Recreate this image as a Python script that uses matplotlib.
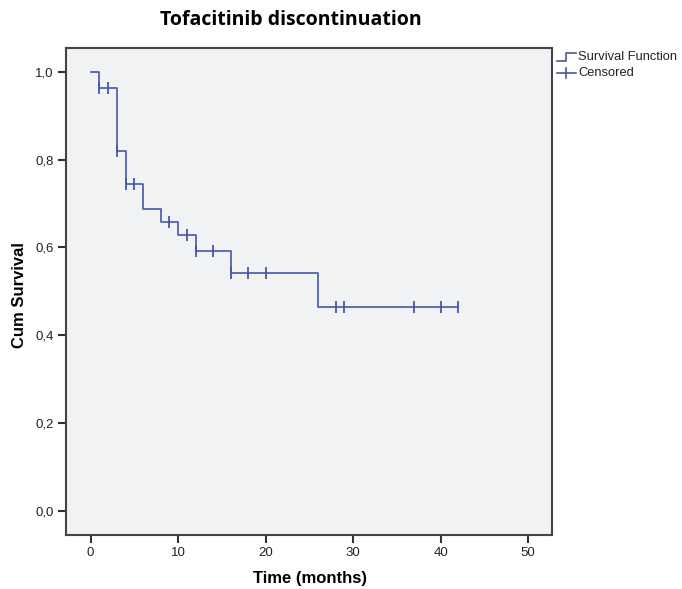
import numpy as np
import matplotlib.pyplot as plt
from matplotlib.lines import Line2D

# Kaplan-Meier steps
step_times = [0, 1, 3, 4, 6, 8, 10, 12, 16, 26]
step_surv = [1.0, 0.964, 0.819, 0.744, 0.687, 0.659, 0.629, 0.593, 0.542, 0.465]
end_time = 42

censored_times = [1, 2, 3, 4, 5, 9, 11, 12, 14, 16, 18, 20, 28, 29, 37, 40, 42]

x_ticks = [0, 10, 20, 30, 40, 50]
y_ticks = [0.0, 0.2, 0.4, 0.6, 0.8, 1.0]
y_ticklabels = ["0,0", "0,2", "0,4", "0,6", "0,8", "1,0"]

line_color = "#4757a8"
W, H = 682, 589

plt.rcParams['font.family'] = ['Liberation Sans', 'DejaVu Sans']

fig = plt.figure(figsize=(W / 100, H / 100), dpi=100)
fig.patch.set_facecolor("white")
ax = fig.add_axes([66 / W, 1 - 535 / H, (552 - 66) / W, (535 - 48) / H])
ax.set_facecolor("#f0f2f4")

# step curve
xs = step_times + [end_time]
ys = step_surv + [step_surv[-1]]
ax.step(xs, ys, where="post", color=line_color, lw=1.2)

# censored marks placed on the curve
idx = np.searchsorted(step_times, censored_times, side="right") - 1
cens_y = [step_surv[i] for i in idx]
ax.plot(censored_times, cens_y, linestyle="none", marker="|", markersize=8,
        markeredgewidth=1.3, color=line_color)

ax.set_xlim(-2.82, 52.72)
ax.set_ylim(-0.0546, 1.054)
ax.set_xticks(x_ticks)
ax.set_yticks(y_ticks)
ax.set_yticklabels(y_ticklabels)
ax.tick_params(axis="both", direction="out", length=6, width=1.5,
               color="#333333", labelsize=9.5, labelcolor="#222222", pad=3)

for sp in ax.spines.values():
    sp.set_color("#444444")
    sp.set_linewidth(1.5)

fig.text(310 / W, 1 - 578 / H, "Time (months)", ha="center", va="center",
         fontsize=12, fontweight="bold")
fig.text(20 / W, 1 - 295 / H, "Cum Survival", ha="center", va="center",
         rotation=90, fontsize=12, fontweight="bold")

fig.text(291 / W, 1 - 20 / H, "Tofacitinib discontinuation", ha="center",
         va="center", fontsize=14, fontweight="bold", family=["Open Sans", "DejaVu Sans"])

# legend drawn outside the axes
def fx(px):
    return px / W

def fy(py):
    return 1 - py / H

fig.add_artist(Line2D([fx(557), fx(566), fx(566), fx(576)],
                      [fy(61), fy(61), fy(53), fy(53)], color=line_color, lw=1.2))
fig.add_artist(Line2D([fx(557), fx(576)], [fy(73), fy(73)], color=line_color, lw=1.2))
fig.add_artist(Line2D([fx(566), fx(566)], [fy(68), fy(78)], color=line_color, lw=1.2))
fig.text(fx(578), fy(57), "Survival Function", fontsize=9.3, va="center", color="#222222")
fig.text(fx(578), fy(73), "Censored", fontsize=9.3, va="center", color="#222222")

fig.savefig("out.png", dpi=100)
